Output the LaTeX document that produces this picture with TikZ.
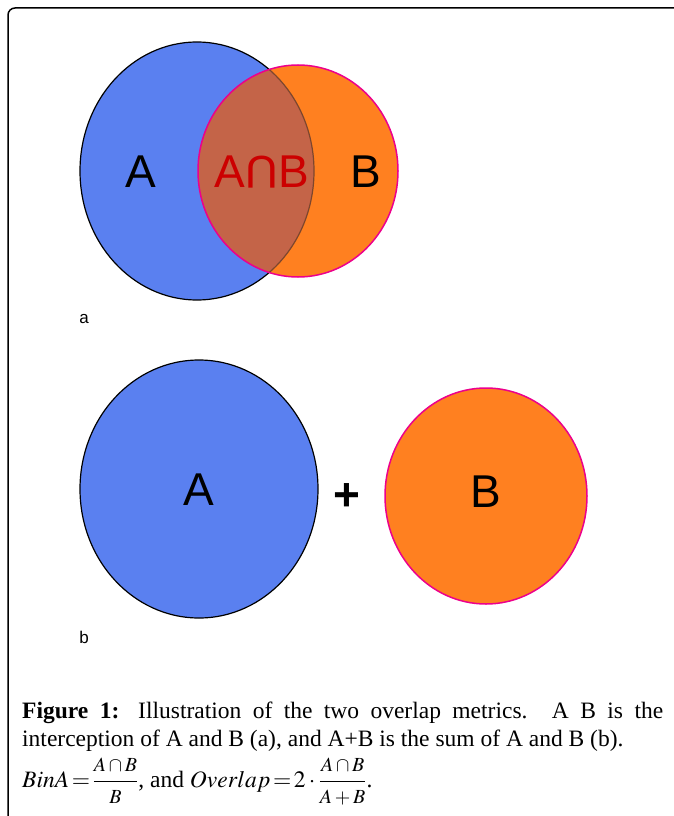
\documentclass[tikz,border=0pt]{standalone}
\usepackage{mathptmx}
\usepackage{fontspec}
\setmainfont{Liberation Serif}
\newfontfamily\lblfont{Liberation Sans}
\definecolor{blueA}{RGB}{90,128,240}
\definecolor{orangeB}{RGB}{255,128,32}
\definecolor{overlapC}{RGB}{196,100,72}
\definecolor{brownline}{RGB}{125,70,45}
\definecolor{redtxt}{RGB}{204,0,0}
\newcommand{\fracpart}[1]{\mbox{\fontsize{20}{22}\selectfont$#1$}}
\begin{document}
\begin{tikzpicture}[x=1pt,y=-1pt,
  bigl/.style={font=\lblfont\fontsize{46}{50}\selectfont, inner sep=0},
  smalll/.style={font=\lblfont\fontsize{17}{20}\selectfont, inner sep=0},
  aline/.style={black, line width=1.2},
  bline/.style={magenta, line width=1.5},
  captxt/.style={inner sep=0, font=\fontsize{23.5}{27.5}\selectfont}]
\useasboundingbox (0,0) rectangle (673,816);
\draw[line width=1.5, rounded corners=7] (8,8) rectangle (720,860);
% ---- part a
\fill[blueA] (197,171) ellipse [x radius=117, y radius=129];
\draw[aline] (197,171) ellipse [x radius=117, y radius=129];
\fill[orangeB] (298,171) ellipse [x radius=100, y radius=106];
\begin{scope}
  \clip (298,171) ellipse [x radius=100, y radius=106];
  \fill[overlapC] (197,171) ellipse [x radius=117, y radius=129];
  \draw[brownline, line width=1.2] (197,171) ellipse [x radius=117, y radius=129];
\end{scope}
\draw[bline] (298,171) ellipse [x radius=100, y radius=106];
\node[bigl] (la) at (141,172) {A};
\node[bigl, text=redtxt] (lab) at (262,172) {A\rotatebox[origin=c]{180}{U}B};
\node[bigl] (lb) at (366,172) {B};
\node[smalll] (suba) at (84,319) {a};
% ---- part b
\fill[blueA] (199,489) ellipse [x radius=119, y radius=129];
\draw[aline] (199,489) ellipse [x radius=119, y radius=129];
\fill[orangeB] (486,496) ellipse [x radius=101, y radius=108];
\draw[bline] (486,496) ellipse [x radius=101, y radius=108];
\node[bigl] (la2) at (199,490) {A};
\node[bigl] (plus) at (347,497) {\textbf{+}};
\node[bigl] (lb2) at (486,492) {B};
\node[smalll] (subb) at (84,637) {b};
% ---- caption
\node[captxt, anchor=north west, text width=641, align=justify] (cap) at (22,702)
 {\textbf{Figure 1:} Illustration of the two overlap metrics. A B is the\linebreak
  interception of A and B (a), and A+B is the sum of A and B (b).};
\node[captxt, anchor=base west] (eq) at (22,787)
 {$BinA\!=\!\displaystyle\frac{\fracpart{A\cap B}}{\fracpart{B}}$, and $Overlap\!=\!2\cdot\displaystyle\frac{\fracpart{A\cap B}}{\fracpart{A+B}}$.};
\end{tikzpicture}
\end{document}
